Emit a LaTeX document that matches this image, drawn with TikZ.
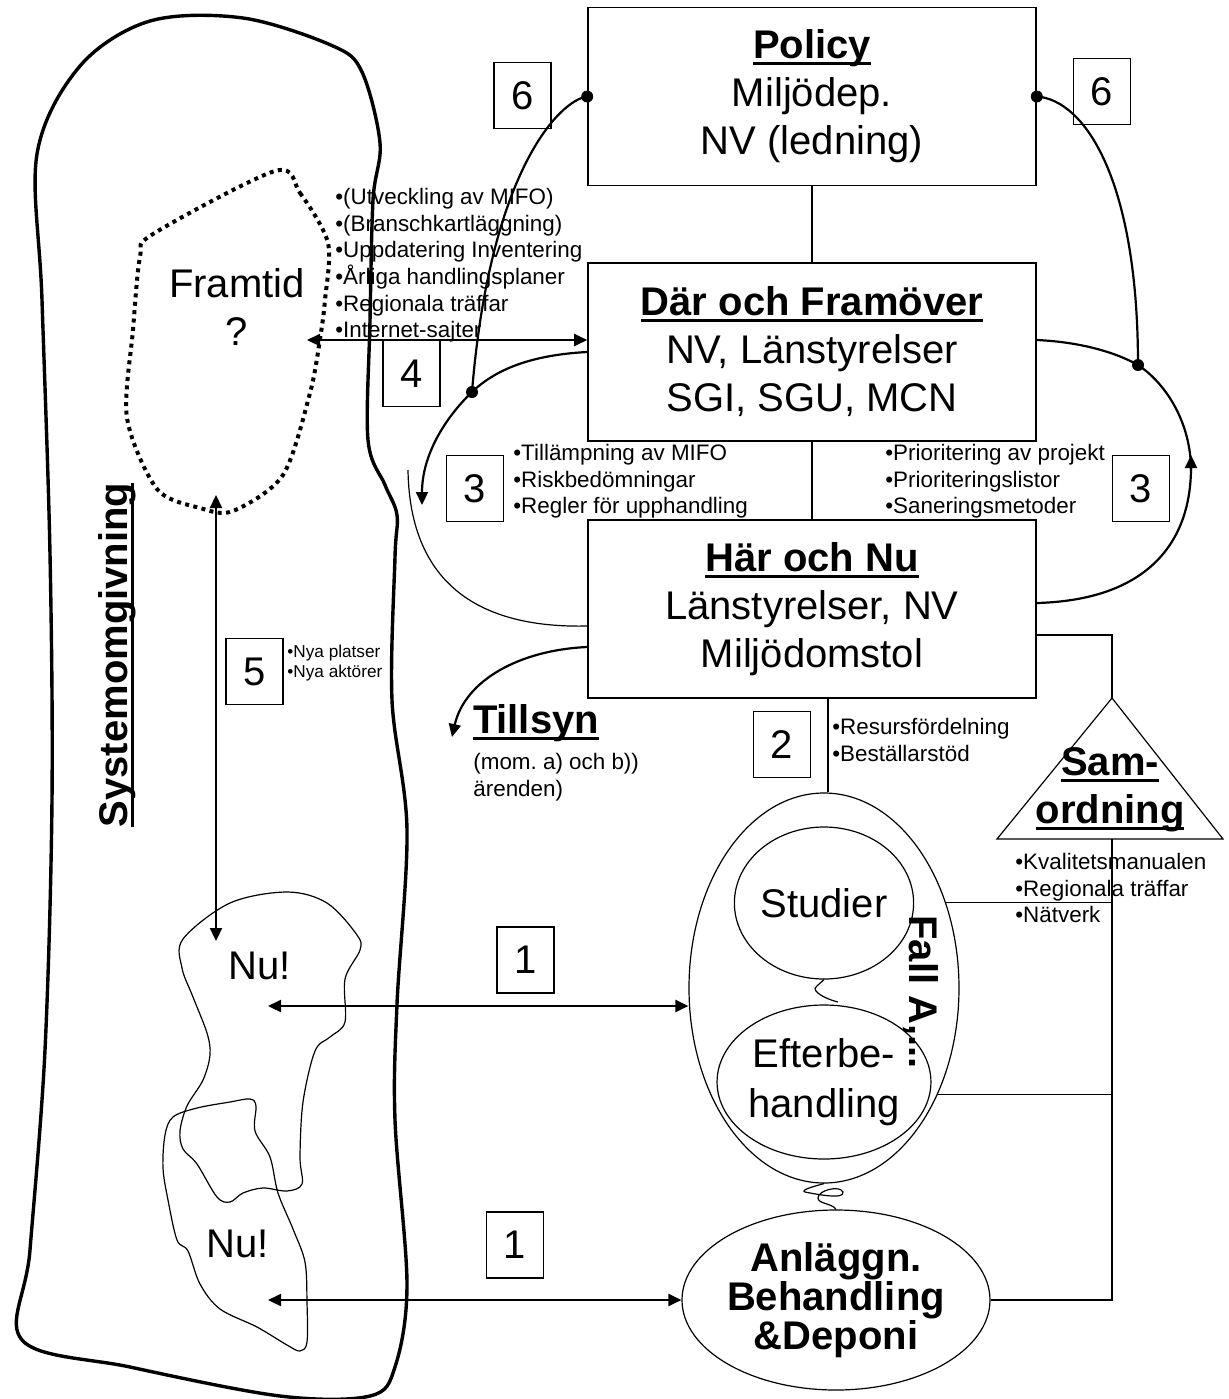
\documentclass[tikz,border=0pt]{standalone}
\usepackage{fontspec}
\setmainfont{Liberation Sans}
\usetikzlibrary{arrows.meta,shapes.geometric,calc}
\frenchspacing
\newcommand\myul[1]{\leavevmode\setbox0=\hbox{#1}\rlap{\rule[-3.2pt]{\wd0}{1.5pt}}\box0}
\tikzset{
  mainbox/.style={draw,line width=0.8pt,minimum width=224pt,minimum height=89pt,inner sep=0pt,align=center,font=\fontsize{20}{24}\selectfont},
  numbox/.style={draw,line width=0.6pt,minimum width=28.5pt,minimum height=33pt,inner sep=0pt,font=\fontsize{20}{24}\selectfont},
  blist/.style={inner sep=0pt,align=left,anchor=north west,font=\fontsize{11.2}{13.3}\selectfont},
  smlist/.style={inner sep=0pt,align=left,anchor=north west,font=\fontsize{8.6}{10}\selectfont},
  conn/.style={line width=1.1pt},
  thinl/.style={line width=0.6pt},
  arrtip/.style={-{Triangle[length=6.5pt,width=6pt]}},
  darrtip/.style={{Triangle[length=6.5pt,width=6pt]}-{Triangle[length=6.5pt,width=6pt]}},
  jdot/.style={circle,fill,inner sep=0pt,minimum size=6pt},
  bigtxt/.style={font=\fontsize{20}{24}\selectfont},
  bigbold/.style={font=\fontsize{20}{24}\selectfont\bfseries},
  oval/.style={ellipse,draw,line width=0.6pt,inner sep=0pt,align=center},
}
\begin{document}
\begin{tikzpicture}[x=0.5pt,y=-0.5pt]
\fill[white] (0,0) rectangle (1229,1399);
\useasboundingbox (0,0) rectangle (1229,1399);

% surrounding blob
\draw[line width=1.7pt] plot[smooth cycle,tension=0.55] coordinates {(150,21) (243,18) (333,46) (362,72) (380,143) (373,200) (370,321) (368,440) (385,485) (397,515) (395,557) (392,700) (407,830) (397,1004) (395,1120) (407,1284) (395,1367) (370,1396) (280,1396) (130,1367) (22,1340) (30,1250) (45,1050) (52,800) (50,554) (42,300) (37,154) (80,66)};
% Framtid dotted blob
\draw[line width=2pt,dash pattern=on 2pt off 2.2pt] plot[smooth cycle,tension=0.5] coordinates {(275,171) (300,193) (328,243) (325,300) (320,339) (310,393) (283,475) (233,511) (200,508) (157,489) (127,418) (133,330) (140,257) (153,234)};
% Nu blobs
\draw[thinl] plot[smooth cycle,tension=0.55] coordinates {(183,939) (230,903) (287,892) (327,903) (357,935) (360,950) (345,979) (345,1022) (330,1037) (315,1051) (303,1102) (300,1157) (302,1184) (287,1191) (263,1188) (243,1193) (230,1202) (217,1197) (197,1164) (183,1149) (180,1131) (187,1106) (203,1080) (210,1055) (207,1033) (193,997) (182,968)};
\draw[thinl] plot[smooth cycle,tension=0.55] coordinates {(250,1099) (256,1106) (255,1131) (270,1157) (278,1193) (293,1229) (305,1262) (307,1302) (307,1342) (300,1351) (287,1345) (257,1327) (220,1309) (200,1284) (188,1251) (177,1240) (168,1200) (163,1168) (165,1135) (173,1117) (197,1108) (230,1102)};

\node[bigtxt,align=center] (framtid) at (237,307) {Framtid\\?};
\node[bigbold,rotate=90] (sysm) at (117,655) {\myul{Systemomgivning}};
\node[bigtxt] (nu1) at (260,966) {Nu!};
\node[bigtxt] (nu2) at (238,1244) {Nu!};

% main boxes
\node[mainbox] (policy) at (812,96.5) {\myul{\bfseries Policy}\\Miljödep.\\NV (ledning)};
\node[mainbox] (dar) at (812,352) {\myul{\bfseries Där och Framöver}\\NV, Länstyrelser\\SGI, SGU, MCN};
\node[mainbox] (har) at (812,609) {\myul{\bfseries Här och Nu}\\Länstyrelser, NV\\Miljödomstol};

% number boxes
\node[numbox] (n6l) at (522.5,95.5) {6};
\node[numbox] (n6r) at (1102,91.5) {6};
\node[numbox] (n4) at (411.5,373.5) {4};
\node[numbox] (n3l) at (475,488.5) {3};
\node[numbox] (n3r) at (1141,488.5) {3};
\node[numbox] (n2) at (782,744.5) {2};
\node[numbox] (n5) at (254.5,671.5) {5};
\node[numbox] (n1a) at (525.5,960) {1};
\node[numbox] (n1b) at (515,1245) {1};

% ovals
\node[oval,minimum width=135pt,minimum height=195pt] (fall) at (824,988) {};
\node[oval,bigtxt,minimum width=83.5pt,minimum height=76pt] (stud) at (824,903) {Studier};
\node[oval,bigtxt,minimum width=83.5pt,minimum height=77pt,font=\fontsize{20}{25}\selectfont] (eft) at (824,1082) {Efterbe-\\handling};
\node[oval,minimum width=108pt,minimum height=90pt,font=\fontsize{20}{19.5}\selectfont\bfseries] (anl) at (836,1300) {Anläggn.\\Behandling\\\&Deponi};
\node[bigbold,rotate=-90] (falltxt) at (921,992) {Fall A,...};

% Samordning triangle
\coordinate (samtop) at (1112,698);
\coordinate (saml) at (997,839);
\coordinate (samr) at (1223,839);
\coordinate (samb) at (1112,839);
\draw[thinl] (samtop) -- (saml) -- (samr) -- cycle;
\node[bigbold,align=center] (samtxt) at (1110,790) {\myul{Sam-}\\\myul{ordning}};

% lists
\node[blist] (l4) at (335,188) {•(Utveckling av MIFO)\\•(Branschkartläggning)\\•Uppdatering Inventering\\•Årliga handlingsplaner\\•Regionala träffar\\•Internet-sajter};
\node[blist] (l3l) at (513,444) {•Tillämpning av MIFO\\•Riskbedömningar\\•Regler för upphandling};
\node[blist] (l3r) at (885,444) {•Prioritering av projekt\\•Prioriteringslistor\\•Saneringsmetoder};
\node[blist] (l2) at (832,718) {•Resursfördelning\\•Beställarstöd};
\node[smlist] (l5) at (287,645) {•Nya platser\\•Nya aktörer};
\node[blist] (lsam) at (1015,853) {•Kvalitetsmanualen\\•Regionala träffar\\•Nätverk};
\node[bigbold] (tillsyn) at (536,723) {\myul{Tillsyn}};
\node[blist] (tillsub) at (473,753) {(mom. a) och b))\\ärenden)};

% straight connectors
\draw[thinl] (policy.south) -- (dar.north);
\draw[thinl] (dar.south) -- (har.north);
\draw[thinl] ([xshift=8pt]har.south) -- ([xshift=8pt]har.south |- fall.north);
\draw[thinl] ([yshift=-13pt]har.east) -- ([yshift=-13pt]har.east -| samtop) -- (samtop);
\draw[thinl] (samb) -- (samb |- anl.east) -- (anl.east);
\draw[thinl] (fall.35) -- (fall.35 -| samb);
\draw[thinl] (fall.-43) -- (fall.-43 -| samb);

% dots and curved connectors
\node[jdot] (d6l) at (policy.west) {};
\node[jdot] (d6r) at (policy.east) {};
\node[jdot] (d3l) at (472,392) {};
\node[jdot] (d3r) at (1138,365) {};
\draw[conn] (policy.west) .. controls (560,100) and (490,170) .. (d3l.center);
\draw[conn] (policy.east) .. controls (1085,100) and (1138,180) .. (d3r.center);
\coordinate (a3l) at (422,505);
\coordinate (a3r) at (1191,455);
\draw[conn,arrtip] (dar.west) .. controls (530,355) and (495,370) .. (d3l.center) .. controls (445,418) and (422,455) .. (a3l);
\draw[thinl] ([yshift=-8.5pt]har.west) .. controls (500,628) and (410,600) .. (408,470);
\draw[conn] ([yshift=6pt]dar.east) .. controls (1080,342) and (1115,352) .. (d3r.center) .. controls (1168,385) and (1191,425) .. (1191,470);
\draw[conn,arrtip] ([yshift=3pt]har.east) .. controls (1150,600) and (1191,540) .. (a3r);
\draw[conn,arrtip] ([yshift=-19pt]har.west) .. controls (520,650) and (465,680) .. ([xshift=-7pt,yshift=-7pt]tillsyn.west);

% double arrows
\coordinate (a4l) at (307,340);
\draw[conn,darrtip] (a4l) -- ([yshift=6pt]dar.west);
\coordinate (a5top) at (216,495);
\coordinate (a5bot) at (216,941);
\draw[conn,darrtip] (a5top) -- (a5bot);
\coordinate (a1a) at (268,1006);
\draw[conn,darrtip] (a1a) -- ([yshift=-9pt]fall.west);
\coordinate (a1b) at (268,1300);
\draw[conn,darrtip] (a1b) -- (anl.west);

% squiggles
\draw[thinl] (stud.south) .. controls (820,984) and (812,988) .. (816,991) .. controls (820,996) and (830,1000) .. (838,1002);
\draw[thinl] (fall.south) .. controls (815,1186) and (800,1190) .. (805,1192) .. controls (815,1194) and (845,1200) .. (843,1192) .. controls (840,1185) and (818,1190) .. (818,1198) .. controls (818,1204) and (832,1203) .. (anl.north);
\end{tikzpicture}
\end{document}
